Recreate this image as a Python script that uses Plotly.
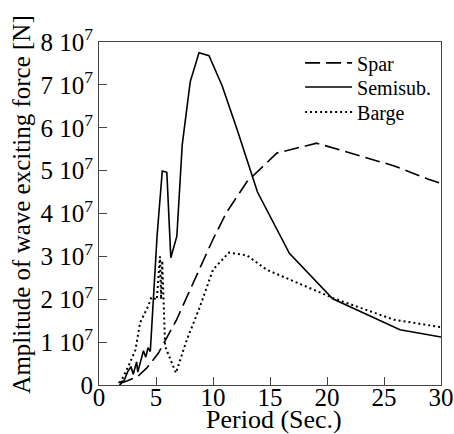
import plotly.graph_objects as go

# Period (s) and amplitude (x 1e7 N)
spar_x = [1.8, 2.0, 2.5, 3.4, 4.2, 5.2, 6.8, 8.0, 10.0, 11.2, 13.0, 14.0, 15.6, 19.1, 22.4, 25.9, 28.9, 30.0]
spar_y = [0.0, 0.05, 0.1, 0.2, 0.4, 0.74, 1.52, 2.22, 3.4, 4.03, 4.75, 5.0, 5.41, 5.64, 5.39, 5.11, 4.8, 4.7]

semi_x = [1.7, 2.2, 2.5, 2.8, 3.0, 3.3, 3.4, 3.9, 4.1, 4.3, 4.5, 4.75, 5.1, 5.55, 5.95, 6.3, 6.83, 7.3, 8.0, 8.77, 9.65, 10.8, 12.1, 13.9, 16.7, 20.5, 26.4, 30.0]
semi_y = [0.05, 0.1, 0.3, 0.43, 0.25, 0.54, 0.3, 0.8, 0.65, 0.87, 0.78, 2.0, 3.5, 4.99, 4.96, 2.97, 3.47, 5.6, 7.07, 7.75, 7.68, 6.98, 5.97, 4.5, 3.07, 2.01, 1.29, 1.12]

barge_x = [1.8, 2.0, 2.6, 3.2, 3.6, 4.3, 4.6, 5.07, 5.35, 5.45, 5.55, 5.8, 6.75, 7.7, 8.86, 10.0, 11.4, 13.0, 14.7, 20.6, 25.9, 30.0]
barge_y = [0.05, 0.12, 0.45, 0.82, 1.45, 1.83, 2.05, 1.99, 3.0, 2.0, 2.9, 0.9, 0.28, 1.05, 1.83, 2.69, 3.09, 3.02, 2.69, 2.02, 1.52, 1.35]

y_ticks = [0, 1, 2, 3, 4, 5, 6, 7, 8]
y_ticktext = ["0"] + [f"{v} 10<sup>7</sup>" for v in y_ticks[1:]]
x_ticks = [0, 5, 10, 15, 20, 25, 30]

x_title = "Period (Sec.)"
y_title = "Amplitude of wave exciting force [N]"

font_family = "Liberation Serif"
big = dict(family=font_family, size=25, color="black")

fig = go.Figure()
fig.add_trace(go.Scatter(x=spar_x, y=spar_y, mode="lines", name="Spar", legend="legend",
                         line=dict(color="black", width=1.6, dash="15px,6px")))
fig.add_trace(go.Scatter(x=semi_x, y=semi_y, mode="lines", name="Semisub.", legend="legend2",
                         line=dict(color="black", width=1.6)))
fig.add_trace(go.Scatter(x=barge_x, y=barge_y, mode="lines", name="Barge", legend="legend3",
                         line=dict(color="black", width=2, dash="2px,3px")))

leg = dict(x=0.588, xanchor="left", yanchor="middle", bgcolor="rgba(0,0,0,0)",
           font=dict(size=20, family=font_family, color="black"), itemwidth=47)

fig.update_layout(
    width=454, height=434,
    margin=dict(l=99, r=13, t=42, b=49),
    paper_bgcolor="white", plot_bgcolor="white",
    font=big,
    showlegend=True,
    legend=dict(leg, y=0.939),
    legend2=dict(leg, y=0.869),
    legend3=dict(leg, y=0.796),
    xaxis=dict(range=[0, 30], tickvals=x_ticks, ticks="inside", ticklen=8,
               tickcolor="#444", showline=True, linecolor="#444", linewidth=1,
               mirror=True, showgrid=False, zeroline=False, tickfont=big,
               ticklabelstandoff=-10, automargin=False),
    yaxis=dict(range=[0, 8], tickvals=y_ticks, ticktext=y_ticktext,
               ticks="inside", ticklen=8, tickcolor="#444",
               showline=True, linecolor="#444", linewidth=1, mirror=True,
               showgrid=False, zeroline=False, tickfont=big,
               automargin=False),
    annotations=[
        dict(text=x_title, xref="paper", yref="paper", x=0.512, y=-0.1,
             xanchor="center", yanchor="middle", showarrow=False,
             font=dict(family=font_family, size=26, color="black")),
        dict(text=y_title, xref="paper", yref="paper", x=-0.225, y=0.526,
             xanchor="center", yanchor="middle", showarrow=False, textangle=-90,
             font=big),
    ],
)

fig.write_html("out.html")
